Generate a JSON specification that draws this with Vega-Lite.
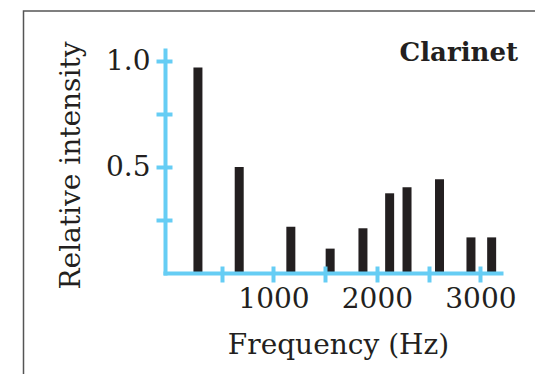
{
  "$schema": "https://vega.github.io/schema/vega-lite/v6.json",
  "width": 336,
  "height": 223,
  "autosize": {"type": "none"},
  "padding": {"left": 165, "top": 50, "right": 34, "bottom": 101},
  "background": "white",
  "config": {"view": {"stroke": null}, "font": "DejaVu Serif"},
  "title": {
    "text": "Clarinet",
    "anchor": "end",
    "frame": "group",
    "font": "DejaVu Serif",
    "fontSize": 26,
    "fontWeight": "bold",
    "color": "#231f20",
    "baseline": "alphabetic",
    "offset": 0,
    "dx": 17,
    "dy": 76.75
  },
  "datasets": {
    "harmonics": [
      {"frequency": 270, "intensity": 0.97},
      {"frequency": 669, "intensity": 0.5},
      {"frequency": 1168, "intensity": 0.218},
      {"frequency": 1548, "intensity": 0.115},
      {"frequency": 1865, "intensity": 0.211},
      {"frequency": 2123, "intensity": 0.376},
      {"frequency": 2291, "intensity": 0.404},
      {"frequency": 2605, "intensity": 0.442},
      {"frequency": 2909, "intensity": 0.168},
      {"frequency": 3109, "intensity": 0.168}
    ],
    "frame": [{"part": "border"}]
  },
  "resolve": {"axis": {"x": "independent", "y": "independent"}},
  "layer": [
    {
      "data": {"name": "frame"},
      "mark": {"type": "rect", "fill": "white", "fillOpacity": 0, "stroke": "#555555", "strokeWidth": 1.5, "clip": false},
      "encoding": {
        "x": {"datum": -1416, "type": "quantitative", "scale": {"domain": [0, 3151], "nice": false, "zero": false}, "axis": null},
        "x2": {"datum": 3800},
        "y": {"datum": 1.236, "type": "quantitative", "scale": {"domain": [0, 1.052], "nice": false, "zero": false}, "axis": null},
        "y2": {"datum": -0.8}
      }
    },
    {
      "data": {"name": "harmonics"},
      "mark": {"type": "bar", "color": "#231f20", "size": 9, "orient": "vertical"},
      "encoding": {
        "x": {
          "field": "frequency",
          "type": "quantitative",
          "scale": {"domain": [0, 3151], "nice": false, "zero": false},
          "axis": {
            "orient": "bottom",
            "values": [500, 1000, 1500, 2000, 2500, 3000],
            "labelExpr": "datum.value % 1000 === 0 ? format(datum.value, 'd') : ''",
            "grid": false,
            "domainColor": "#66cdf4",
            "domainWidth": 4,
            "domainCap": "square",
            "tickColor": "#66cdf4",
            "tickWidth": 4,
            "tickSize": 9,
            "labelFont": "DejaVu Serif",
            "labelFontSize": 28,
            "labelColor": "#231f20",
            "labelPadding": 3,
            "labelFlush": false,
            "labelOverlap": false,
            "title": "Frequency (Hz)",
            "titleFont": "DejaVu Serif",
            "titleFontSize": 28,
            "titleFontWeight": "normal",
            "titleColor": "#231f20",
            "titlePadding": 18,
            "titleX": 173,
            "zindex": 1
          }
        },
        "y": {
          "field": "intensity",
          "type": "quantitative",
          "scale": {"domain": [0, 1.052], "nice": false, "zero": false},
          "axis": {
            "orient": "left",
            "values": [0.25, 0.5, 0.75, 1.0],
            "labelExpr": "datum.value === 0.5 || datum.value === 1 ? format(datum.value, '.1f') : ''",
            "grid": false,
            "domainColor": "#66cdf4",
            "domainWidth": 4,
            "domainCap": "square",
            "tickColor": "#66cdf4",
            "tickWidth": 4,
            "tickSize": 9,
            "labelFont": "DejaVu Serif",
            "labelFontSize": 28,
            "labelColor": "#231f20",
            "labelPadding": 6,
            "labelFlush": false,
            "labelOverlap": false,
            "labelBaseline": "middle",
            "title": "Relative intensity",
            "titleFont": "DejaVu Serif",
            "titleFontSize": 28,
            "titleFontWeight": "normal",
            "titleColor": "#231f20",
            "titlePadding": 20,
            "titleY": 115,
            "zindex": 1
          }
        }
      }
    },
    {
      "data": {"name": "harmonics"},
      "mark": {"type": "point", "opacity": 0},
      "encoding": {
        "x": {
          "field": "frequency",
          "type": "quantitative",
          "scale": {"domain": [0, 3151], "nice": false, "zero": false},
          "axis": {
            "orient": "bottom",
            "values": [500, 1000, 1500, 2000, 2500, 3000],
            "domain": false,
            "labels": false,
            "grid": false,
            "tickColor": "#66cdf4",
            "tickWidth": 4,
            "tickSize": -7,
            "title": null,
            "zindex": 1
          }
        },
        "y": {
          "field": "intensity",
          "type": "quantitative",
          "scale": {"domain": [0, 1.052], "nice": false, "zero": false},
          "axis": {
            "orient": "left",
            "values": [0.25, 0.5, 0.75, 1.0],
            "domain": false,
            "labels": false,
            "grid": false,
            "tickColor": "#66cdf4",
            "tickWidth": 4,
            "tickSize": -7,
            "title": null,
            "zindex": 1
          }
        }
      }
    }
  ]
}
